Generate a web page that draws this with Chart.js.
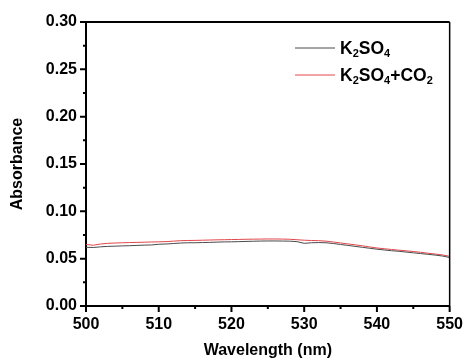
<!DOCTYPE html>
<html lang="en">
<head>
  <meta charset="UTF-8">
  <title>Absorbance spectra</title>
  <script src="https://cdn.jsdelivr.net/npm/chart.js"></script>
  <style>
    html, body { margin: 0; padding: 0; background: #fff; }
    #wrap { width: 472px; height: 360px; }
  </style>
</head>
<body>
  <div id="wrap"><canvas id="spectra"></canvas></div>
  <script>
    // Wavelength grid (nm) and absorbance readings
    const wavelengths = [];
    for (let w = 500; w <= 550; w++) wavelengths.push(w);

    const k2so4 = [
      0.0620, 0.0618, 0.0625, 0.0630, 0.0632, 0.0635, 0.0637, 0.0640, 0.0643, 0.0645,
      0.0652, 0.0655, 0.0660, 0.0665, 0.0668, 0.0668, 0.0670, 0.0672, 0.0675, 0.0677,
      0.0678, 0.0680, 0.0682, 0.0684, 0.0686, 0.0687, 0.0687, 0.0686, 0.0685, 0.0680,
      0.0662, 0.0668, 0.0670, 0.0668, 0.0660, 0.0650, 0.0640, 0.0630, 0.0620, 0.0610,
      0.0600, 0.0592, 0.0584, 0.0578, 0.0570, 0.0562, 0.0554, 0.0546, 0.0538, 0.0528,
      0.0512
    ];
    const k2so4co2 = [
      0.0650, 0.0642, 0.0655, 0.0662, 0.0665, 0.0668, 0.0670, 0.0672, 0.0674, 0.0676,
      0.0678, 0.0680, 0.0685, 0.0690, 0.0692, 0.0693, 0.0695, 0.0697, 0.0699, 0.0700,
      0.0702, 0.0703, 0.0705, 0.0706, 0.0707, 0.0708, 0.0708, 0.0707, 0.0705, 0.0700,
      0.0695, 0.0692, 0.0690, 0.0685, 0.0676, 0.0666, 0.0656, 0.0646, 0.0636, 0.0624,
      0.0613, 0.0605, 0.0597, 0.0590, 0.0583, 0.0576, 0.0567, 0.0558, 0.0549, 0.0540,
      0.0525
    ];

    const xMajor = [500, 510, 520, 530, 540, 550];
    const xMinor = [505, 515, 525, 535, 545];
    const yMajor = [0, 0.05, 0.10, 0.15, 0.20, 0.25, 0.30];
    const yMinor = [0.025, 0.075, 0.125, 0.175, 0.225, 0.275];

    // legend entries: [text, subscript] pieces
    const legendItems = [
      { color: '#4a4a4a', parts: [['K', false], ['2', true], ['SO', false], ['4', true]] },
      { color: '#e2474c', parts: [['K', false], ['2', true], ['SO', false], ['4', true], ['+CO', false], ['2', true]] }
    ];

    const FONT = 'Arial, "Liberation Sans", sans-serif';

    const toPoints = ys => ys.map((y, i) => ({ x: wavelengths[i], y }));

    // outward ticks plus top/right frame
    const framePlugin = {
      id: 'frame',
      afterDraw(chart) {
        const { ctx, chartArea: a, scales: { x, y } } = chart;
        ctx.save();
        ctx.strokeStyle = '#000';
        ctx.lineWidth = 2;
        ctx.beginPath();
        ctx.moveTo(a.left, a.top);
        ctx.lineTo(a.right, a.top);
        ctx.stroke();
        ctx.lineWidth = 1.5;
        ctx.beginPath();
        ctx.moveTo(a.right, a.top);
        ctx.lineTo(a.right, a.bottom);
        ctx.stroke();

        ctx.lineWidth = 2;
        ctx.beginPath();
        xMajor.forEach(v => { const px = x.getPixelForValue(v); ctx.moveTo(px, a.bottom); ctx.lineTo(px, a.bottom + 6); });
        yMajor.forEach(v => { const py = y.getPixelForValue(v); ctx.moveTo(a.left, py); ctx.lineTo(a.left - 6, py); });
        xMinor.forEach(v => { const px = x.getPixelForValue(v); ctx.moveTo(px, a.bottom); ctx.lineTo(px, a.bottom + 3); });
        yMinor.forEach(v => { const py = y.getPixelForValue(v); ctx.moveTo(a.left, py); ctx.lineTo(a.left - 3, py); });
        ctx.stroke();
        ctx.restore();
      }
    };

    // legend with chemical subscripts
    const legendPlugin = {
      id: 'subLegend',
      afterDraw(chart) {
        const ctx = chart.ctx;
        ctx.save();
        ctx.textBaseline = 'alphabetic';
        legendItems.forEach((item, i) => {
          const cy = 48 + i * 27;
          ctx.strokeStyle = item.color;
          ctx.lineWidth = 1;
          ctx.beginPath();
          ctx.moveTo(295, cy);
          ctx.lineTo(335, cy);
          ctx.stroke();
          let tx = 340;
          ctx.fillStyle = '#000';
          item.parts.forEach(([txt, sub]) => {
            ctx.font = sub ? `bold 11px ${FONT}` : `bold 17.5px ${FONT}`;
            ctx.fillText(txt, tx, sub ? cy + 9 : cy + 6);
            tx += ctx.measureText(txt).width;
          });
        });
        ctx.restore();
      }
    };

    new Chart(document.getElementById('spectra'), {
      type: 'line',
      data: {
        datasets: [
          { label: 'K2SO4', data: toPoints(k2so4), borderColor: legendItems[0].color, borderWidth: 1, pointRadius: 0, tension: 0 },
          { label: 'K2SO4+CO2', data: toPoints(k2so4co2), borderColor: legendItems[1].color, borderWidth: 1, pointRadius: 0, tension: 0 }
        ]
      },
      options: {
        responsive: true,
        maintainAspectRatio: false,
        animation: false,
        layout: { padding: { top: 22, right: 15, left: 0, bottom: 0 } },
        plugins: { legend: { display: false }, tooltip: { enabled: false } },
        scales: {
          x: {
            type: 'linear',
            min: 500, max: 550,
            afterBuildTicks: s => { s.ticks = xMajor.map(v => ({ value: v })); },
            afterFit: s => { s.height = 54; },
            grid: { display: false, drawTicks: false },
            border: { display: true, color: '#000', width: 2 },
            ticks: { color: '#000', padding: 9, font: { family: FONT, size: 16, weight: 'bold' }, maxRotation: 0 },
            title: { display: true, text: 'Wavelength (nm)', color: '#000', padding: { top: 4, bottom: 0 }, font: { family: FONT, size: 16, weight: 'bold' } }
          },
          y: {
            min: 0, max: 0.30,
            afterBuildTicks: s => { s.ticks = yMajor.map(v => ({ value: v })); },
            afterFit: s => { s.width = 86; },
            grid: { display: false, drawTicks: false },
            border: { display: true, color: '#000', width: 2 },
            ticks: { color: '#000', padding: 9, font: { family: FONT, size: 16, weight: 'bold' }, callback: v => v.toFixed(2) },
            title: { display: true, text: 'Absorbance', color: '#000', padding: { top: 8, bottom: 4 }, font: { family: FONT, size: 16, weight: 'bold' } }
          }
        }
      },
      plugins: [framePlugin, legendPlugin]
    });
  </script>
</body>
</html>
